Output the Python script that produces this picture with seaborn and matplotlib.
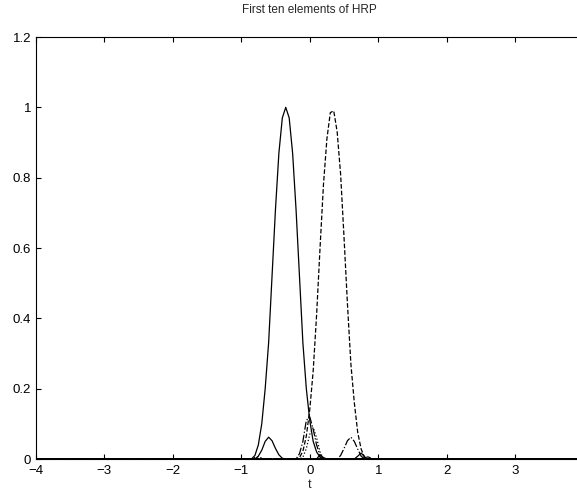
import matplotlib
matplotlib.use("Agg")
import matplotlib.pyplot as plt
import seaborn as sns
import numpy as np

# shared sample grid (t)
t = [-4.0, -1.0, -0.95, -0.90, -0.85, -0.80, -0.75, -0.70, -0.65, -0.60, -0.55,
     -0.50, -0.45, -0.40, -0.35, -0.30, -0.25, -0.20, -0.15, -0.10, -0.05, 0.00,
     0.05, 0.10, 0.15, 0.20, 0.25, 0.30, 0.35, 0.40, 0.45, 0.50, 0.55, 0.60,
     0.65, 0.70, 0.75, 0.80, 0.85, 0.90, 0.95, 1.00, 4.0]

# ten elements, values
e1 = [0, 0, 0, 0, 0, 0.01, 0.04, 0.10, 0.20, 0.33, 0.52,
      0.71, 0.87, 0.97, 1.00, 0.97, 0.87, 0.71, 0.52, 0.33, 0.20, 0.11,
      0.05, 0.02, 0.005, 0, 0, 0, 0, 0, 0, 0, 0, 0,
      0, 0, 0, 0, 0, 0, 0, 0, 0]
e2 = [0, 0, 0, 0, 0, 0, 0, 0, 0, 0, 0,
      0, 0, 0, 0, 0, 0, 0, 0.004, 0.022, 0.065, 0.14,
      0.25, 0.41, 0.60, 0.78, 0.91, 0.985, 0.99, 0.93, 0.81, 0.63, 0.44, 0.27,
      0.16, 0.075, 0.028, 0.005, 0, 0, 0, 0, 0]
e3 = [0, 0, 0, 0, 0, 0, 0, 0, 0, 0, 0,
      0, 0, 0, 0, 0, 0, 0, 0.015, 0.05, 0.11, 0.12,
      0.085, 0.04, 0.01, 0, 0, 0, 0, 0, 0, 0, 0, 0,
      0, 0, 0, 0, 0, 0, 0, 0, 0]
e4 = [0, 0, 0, 0, 0, 0, 0, 0, 0, 0, 0,
      0, 0, 0, 0, 0, 0, 0, 0, 0.005, 0.03, 0.07,
      0.09, 0.06, 0.02, 0, 0, 0, 0, 0, 0, 0, 0, 0,
      0, 0, 0, 0, 0, 0, 0, 0, 0]
e5 = [0, 0, 0, 0, 0, 0, 0.008, 0.025, 0.05, 0.062, 0.052,
      0.03, 0.012, 0.002, 0, 0, 0, 0, 0, 0, 0, 0,
      0, 0, 0, 0, 0, 0, 0, 0, 0, 0, 0, 0,
      0, 0, 0, 0, 0, 0, 0, 0, 0]
e6 = [0, 0, 0, 0, 0, 0, 0, 0, 0, 0, 0,
      0, 0, 0, 0, 0, 0, 0, 0, 0, 0, 0,
      0, 0, 0, 0, 0, 0, 0, 0, 0.01, 0.03, 0.052, 0.062,
      0.05, 0.028, 0.008, 0, 0, 0, 0, 0, 0]
e7 = [0, 0, 0, 0, 0, 0, 0, 0, 0, 0, 0,
      0, 0, 0, 0, 0, 0, 0, 0, 0, 0, 0,
      0, 0, 0.012, 0.004, 0, 0, 0, 0, 0, 0, 0, 0,
      0, 0, 0, 0, 0, 0, 0, 0, 0]
e8 = [0, 0, 0, 0, 0, 0, 0, 0, 0, 0, 0,
      0, 0, 0, 0, 0, 0, 0, 0, 0, 0, 0,
      0, 0, 0, 0, 0, 0, 0, 0, 0, 0, 0, 0,
      0, 0.008, 0.017, 0.006, 0, 0, 0, 0, 0]
e9 = [0, 0, 0, 0, 0, 0.004, 0.006, 0.003, 0, 0, 0,
      0, 0, 0, 0, 0, 0, 0, 0, 0, 0, 0,
      0, 0, 0, 0, 0, 0, 0, 0, 0, 0, 0, 0,
      0, 0, 0, 0, 0, 0, 0, 0, 0]
e10 = [0, 0, 0, 0, 0, 0, 0, 0, 0, 0, 0,
       0, 0, 0, 0, 0, 0, 0, 0, 0, 0, 0,
       0, 0, 0, 0, 0, 0, 0, 0, 0, 0, 0, 0,
       0, 0, 0, 0.004, 0.006, 0.002, 0, 0, 0]

series = [e1, e2, e3, e4, e5, e6, e7, e8, e9, e10]
styles = ["-", "--", "-.", ":", "-", "-.", "-", "-", ":", "--"]

x_ticks = [-4, -3, -2, -1, 0, 1, 2, 3]
y_ticks = [0, 0.2, 0.4, 0.6, 0.8, 1.0, 1.2]
y_tick_labels = ["0", "0.2", "0.4", "0.6", "0.8", "1", "1.2"]

sns.set_style("ticks")
plt.rcParams["font.family"] = ["Liberation Sans", "DejaVu Sans"]

fig = plt.figure(figsize=(5.77, 4.90), dpi=100)
ax = fig.add_axes([35.5 / 577, 31 / 490, (584 - 35.5) / 577, 422 / 490])

for y, ls in zip(series, styles):
    sns.lineplot(x=t, y=y, ax=ax, color="black", linestyle=ls, linewidth=0.9,
                 estimator=None, sort=False)

ax.set_xlim(-4, 4)
ax.set_ylim(0, 1.2)
ax.set_xticks(x_ticks)
ax.set_xticklabels([str(v).replace("-", "\u2212") for v in x_ticks])
ax.set_yticks(y_ticks)
ax.set_yticklabels(y_tick_labels)
ax.tick_params(direction="in", length=3.5, width=0.8, top=True, right=True,
               labelsize=9.5, colors="black")
ax.tick_params(axis="x", pad=4.5)
ax.tick_params(axis="y", pad=3)
for s in ax.spines.values():
    s.set_linewidth(0.8)
    s.set_color("black")
ax.set_xlabel("t", fontsize=9, labelpad=1)
ax.set_ylabel("")
ax.set_title("First ten elements of HRP", fontsize=8.5, pad=17)

fig.savefig("out.png", dpi=100)
